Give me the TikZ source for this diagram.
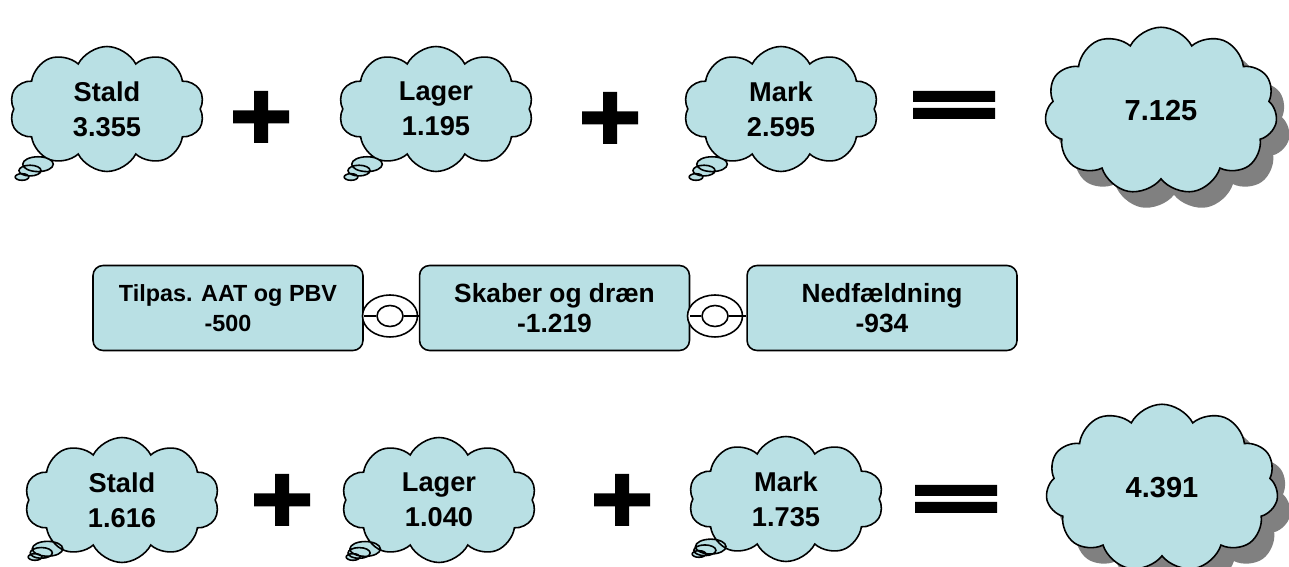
\documentclass[tikz,border=0pt]{standalone}
\usepackage{fontspec}
\setmainfont{Liberation Sans}
\usepackage{tikz}
\usetikzlibrary{shapes.symbols, shapes.callouts, shapes.geometric, shadows, positioning}

\definecolor{skyfill}{RGB}{185,224,228}

\tikzset{
  thought/.style = {cloud callout, draw, fill=skyfill, line width=0.9pt,
    cloud puffs=10, cloud puff arc=125, cloud ignores aspect,
    minimum width=3.9cm, minimum height=2.5cm, inner sep=0pt, align=center,
    font=\fontsize{15.5}{19.8}\selectfont\bfseries,
    callout pointer segments=3,
    callout pointer start size=.2 of callout, callout pointer end size=.07 of callout},
  total/.style = {cloud, draw, fill=skyfill, line width=0.9pt,
    cloud puffs=11, cloud puff arc=125, cloud ignores aspect,
    minimum width=4.65cm, minimum height=3.35cm, inner sep=0pt,
    font=\fontsize{16.5}{20}\selectfont\bfseries,
    drop shadow={shadow xshift=0.26cm, shadow yshift=-0.32cm, fill=black!50, opacity=1}},
  measure/.style = {rectangle, rounded corners=0.2cm, draw, fill=skyfill, line width=0.9pt,
    minimum width=5.4cm, minimum height=1.7cm, align=center,
    font=\fontsize{15}{17}\selectfont\bfseries},
  knot/.style = {ellipse, draw, fill=white, line width=0.9pt, inner sep=0pt,
    minimum width=1.1cm, minimum height=0.84cm},
  hole/.style = {ellipse, draw, line width=0.9pt, inner sep=0pt,
    minimum width=0.52cm, minimum height=0.42cm}
}

\begin{document}
\begin{tikzpicture}[x=0.02cm, y=-0.02cm]
\useasboundingbox (0,0) rectangle (1289,567);

% before
\node[thought, callout absolute pointer={(22,177)}]		(stald1)	at (107,109)	{Stald\\3.355};
\node[thought, callout absolute pointer={(351,177)}]	(lager1)	at (436,109)	{Lager\\1.195};
\node[thought, callout absolute pointer={(696,177)}]	(mark1)		at (781,109)	{Mark\\2.595};
\node[total]	(sum1)		at (1161,111)	{7.125};

% measures
\node[measure, font=\fontsize{13.3}{17}\selectfont\bfseries]	(aat)	at (228,308)	{Tilpas. AAT og PBV\\-500};
\node[measure, right=1.1cm of aat]		(skaber)	{Skaber og dræn\\-1.219};
\node[measure, right=1.12cm of skaber]	(fald)		{Nedfældning\\-934};

\node[knot]	(knot1)	at (390,316)	{};
\node[knot]	(knot2)	at (715,316)	{};
\node[hole]	(hole1)	at (knot1)		{};
\node[hole]	(hole2)	at (knot2)		{};

\draw[line width=0.9pt] (aat.east |- hole1) -- (hole1.west);
\draw[line width=0.9pt] (hole1.east) -- (skaber.west |- hole1);
\draw[line width=0.9pt] (skaber.east |- hole2) -- (hole2.west);
\draw[line width=0.9pt] (hole2.east) -- (fald.west |- hole2);

% after
\node[thought, callout absolute pointer={(35,557)}]		(stald2)	at (122,500)	{Stald\\1.616};
\node[thought, callout absolute pointer={(353,557)}]	(lager2)	at (439,500)	{Lager\\1.040};
\node[thought, callout absolute pointer={(699,554)}]	(mark2)		at (786,499)	{Mark\\1.735};
\node[total]	(sum2)		at (1162,488)	{4.391};

% plus and equals
\foreach \p in {(261,117), (610,118), (282,500), (622,500)}
  \fill[shift={\p}] (-28,-6.5) rectangle (28,6.5) (-7,-26) rectangle (7,26);
\foreach \p in {(954,105), (956,499)}
  \fill[shift={\p}] (-41,-14) rectangle (41,-3) (-41,3) rectangle (41,14);

\end{tikzpicture}
\end{document}
